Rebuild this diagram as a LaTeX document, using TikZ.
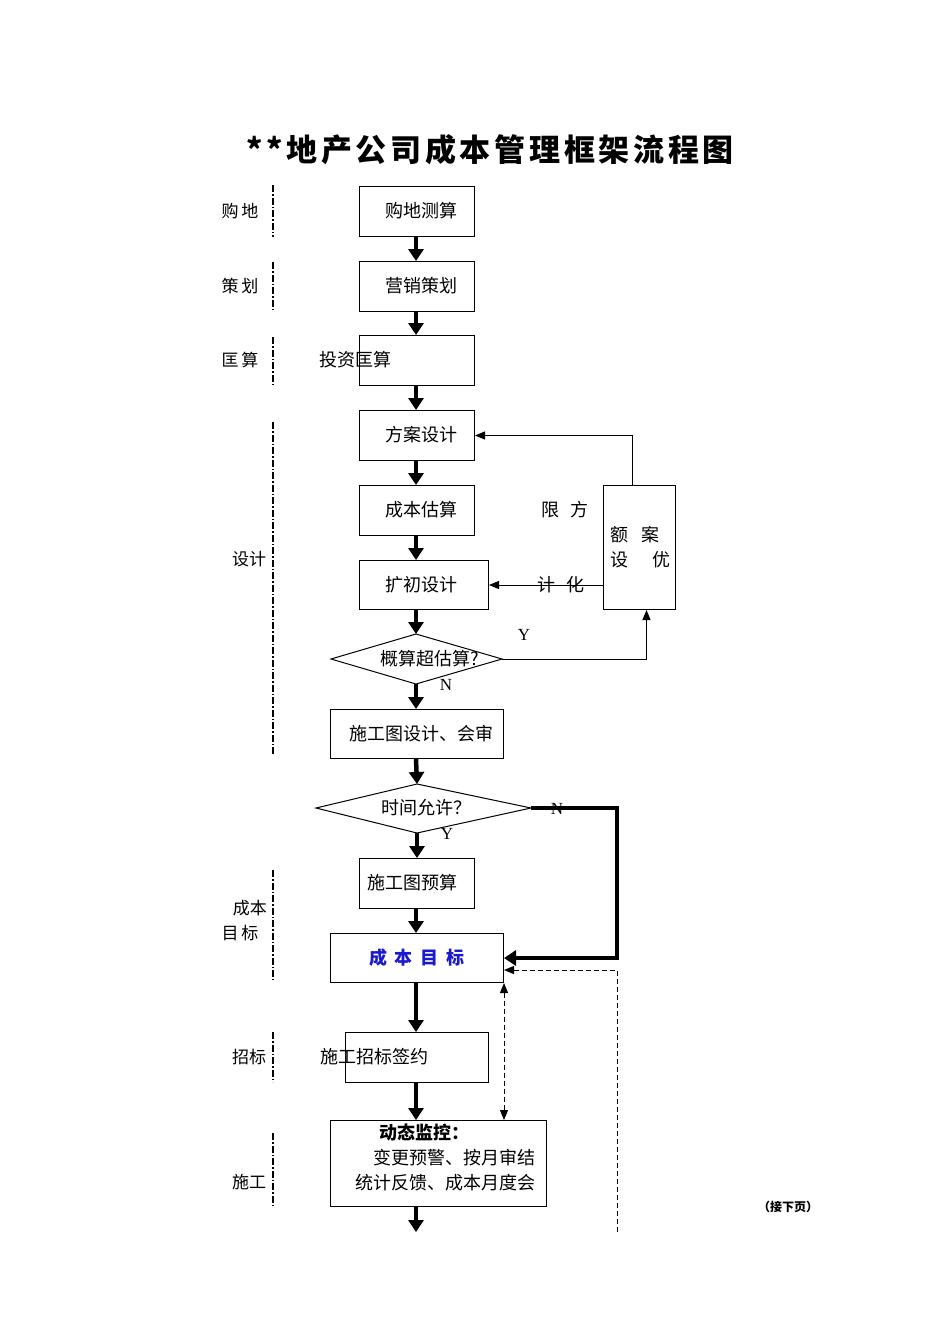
\documentclass[tikz,border=0pt]{standalone}
\usepackage{fontspec}
\setmainfont{Liberation Serif}
\newfontfamily\cjk{Noto Sans CJK SC}
\usetikzlibrary{arrows.meta}
\newcommand\bodyf{\cjk\fontsize{18}{22}\selectfont}
\newcommand\labf{\cjk\fontsize{17}{24}\selectfont}
\definecolor{tgtblue}{RGB}{25,25,205}
\begin{document}
\begin{tikzpicture}[x=1pt,y=-1pt,
 box/.style={draw,line width=1pt,inner sep=0,anchor=north west},
 txt/.style={inner sep=0,font=\bodyf},
 lab/.style={inner sep=0,font=\labf,align=center},
 yn/.style={inner sep=0,font=\fontsize{17}{20}\selectfont},
 thk/.style={line width=4.5pt,-{Triangle[width=15pt,length=12pt]}},
 thn/.style={line width=1pt,-{Triangle[width=8pt,length=10pt]}},
 dsh/.style={line width=1pt,dash pattern=on 5pt off 3pt},
 sep/.style={line width=1.3pt,dash pattern=on 7pt off 2pt on 1.5pt off 2pt}]
\useasboundingbox (0,0) rectangle (950,1344);
% title
\node[inner sep=0,font=\cjk\bfseries\fontsize{31}{34}\selectfont\addfontfeature{LetterSpace=12}] (title) at (490,150) {**地产公司成本管理框架流程图};
% axis
\coordinate (ax) at (416,0);
% boxes
\node[box,minimum width=115,minimum height=50] (n1) at (359,186) {};
\node[txt] (t1) at (421,211) {购地测算};
\node[box,minimum width=115,minimum height=50] (n2) at (359,261) {};
\node[txt] (t2) at (421,286) {营销策划};
\node[box,minimum width=115,minimum height=50] (n3) at (359,335) {};
\node[txt] (t3) at (355,360) {投资匡算};
\node[box,minimum width=115,minimum height=50] (n4) at (359,410) {};
\node[txt] (t4) at (421,435) {方案设计};
\node[box,minimum width=115,minimum height=50] (n5) at (359,485) {};
\node[txt] (t5) at (421,510) {成本估算};
\node[box,minimum width=129,minimum height=49] (n6) at (359,560) {};
\node[txt] (t6) at (421,585) {扩初设计};
% diamond 1
\coordinate (d1l) at (331,659);
\coordinate (d1t) at (416,634);
\coordinate (d1r) at (502,659);
\coordinate (d1b) at (416,684);
\draw[line width=1pt] (d1l) -- (d1t) -- (d1r) -- (d1b) -- cycle;
\node[txt] (t7) at (430,659) {概算超估算?};
\node[box,minimum width=173,minimum height=49] (n7) at (330,709) {};
\node[txt] (t8) at (421,734) {施工图设计、会审};
% diamond 2
\coordinate (d2l) at (316,808);
\coordinate (d2t) at (417,784);
\coordinate (d2r) at (531,808);
\coordinate (d2b) at (417,833);
\draw[line width=1pt] (d2l) -- (d2t) -- (d2r) -- (d2b) -- cycle;
\node[txt] (t9) at (426,808) {时间允许？};
\node[box,minimum width=115,minimum height=50] (n8) at (359,858) {};
\node[txt] (t10) at (412,883) {施工图预算};
\node[box,minimum width=173,minimum height=49] (n9) at (330,933) {};
\node[txt,font=\bodyf\bfseries,text=tgtblue] (t11) at (417,958) {成\hspace{8pt}本\hspace{8pt}目\hspace{8pt}标};
\node[box,minimum width=143,minimum height=50] (n10) at (345,1032) {};
\node[txt] (t12) at (374,1057) {施工招标签约};
\node[box,minimum width=216,minimum height=86] (n11) at (330,1120) {};
\node[txt,font=\bodyf\bfseries] (t13) at (424,1133) {动态监控：};
\node[txt,align=right,anchor=east,font=\cjk\fontsize{18}{25}\selectfont] (t14) at (536,1170) {变更预警、按月审结\\统计反馈、成本月度会};
% right box
\node[box,minimum width=72,minimum height=124] (r1) at (603,485) {};
\node[txt,align=left,font=\cjk\fontsize{18}{25}\selectfont] (t15) at (640,547) {额\hspace{14pt}案\\设\hspace{24pt}优};
\node[txt] (t16) at (565,510) {限\hspace{12pt}方};
% connectors
\coordinate (endp) at (416,1232);
\draw[thk] (n1.south -| ax) -- (n2.north -| ax);
\draw[thk] (n2.south -| ax) -- (n3.north -| ax);
\draw[thk] (n3.south -| ax) -- (n4.north -| ax);
\draw[thk] (n4.south -| ax) -- (n5.north -| ax);
\draw[thk] (n5.south -| ax) -- (n6.north -| ax);
\draw[thk] (n6.south -| ax) -- (d1t);
\draw[thk] (d1b) -- (n7.north -| ax);
\draw[thk] (n7.south -| ax) -- (d2t);
\draw[thk] (d2b) -- (n8.north -| d2b);
\draw[thk] (n8.south -| ax) -- (n9.north -| ax);
\draw[thk] (n9.south -| ax) -- (n10.north -| ax);
\draw[thk] (n10.south -| ax) -- (n11.north -| ax);
\draw[thk] (n11.south -| ax) -- (endp);
\draw[thn] ([xshift=-7pt]r1.north) |- (n4.east);
\draw[thn] (r1.west |- n6.east) -- (n6.east);
\node[txt] (t17) at (561,585) {计\hspace{12pt}化};
\draw[thn] (d1r) -| ([xshift=7pt]r1.south);
\coordinate (c1) at (617,958);
\draw[thk] (d2r) -| (c1) -- (n9.east |- c1);
\coordinate (dend) at (617,1232);
\coordinate (c2) at (617,970);
\draw[dsh,-{Triangle[width=8pt,length=10pt]}] (dend) -- (c2) -- (n9.east |- c2);
\draw[dsh,{Triangle[width=8pt,length=10pt]}-{Triangle[width=8pt,length=10pt]}] (n9.south east) -- (n9.south east |- n11.north);
% Y / N
\node[yn] (y1) at (524,635) {Y};
\node[yn] (no1) at (446,685) {N};
\node[yn] (no2) at (557,809) {N};
\node[yn] (y2) at (447,834) {Y};
% left labels and separators
\node[lab] (l1) at (240,211) {购\hspace{3pt}地};
\draw[sep] (273,185) -- (273,237);
\node[lab] (l2) at (240,286) {策\hspace{3pt}划};
\draw[sep] (273,262) -- (273,310);
\node[lab] (l3) at (240,360) {匡\hspace{3pt}算};
\draw[sep] (273,337) -- (273,385);
\node[lab] (l4) at (249,559) {设计};
\draw[sep] (273,422) -- (273,755);
\node[lab,anchor=east] (l5) at (267,908) {成本};
\node[lab] (l6) at (240,933) {目\hspace{3pt}标};
\draw[sep] (273,870) -- (273,980);
\node[lab] (l7) at (249,1057) {招标};
\draw[sep] (273,1032) -- (273,1082);
\node[lab] (l8) at (249,1182) {施工};
\draw[sep] (273,1133) -- (273,1205);
\node[inner sep=0,font=\cjk\bfseries\fontsize{12}{14}\selectfont] (cont) at (788,1207) {（接下页）};
\end{tikzpicture}
\end{document}
